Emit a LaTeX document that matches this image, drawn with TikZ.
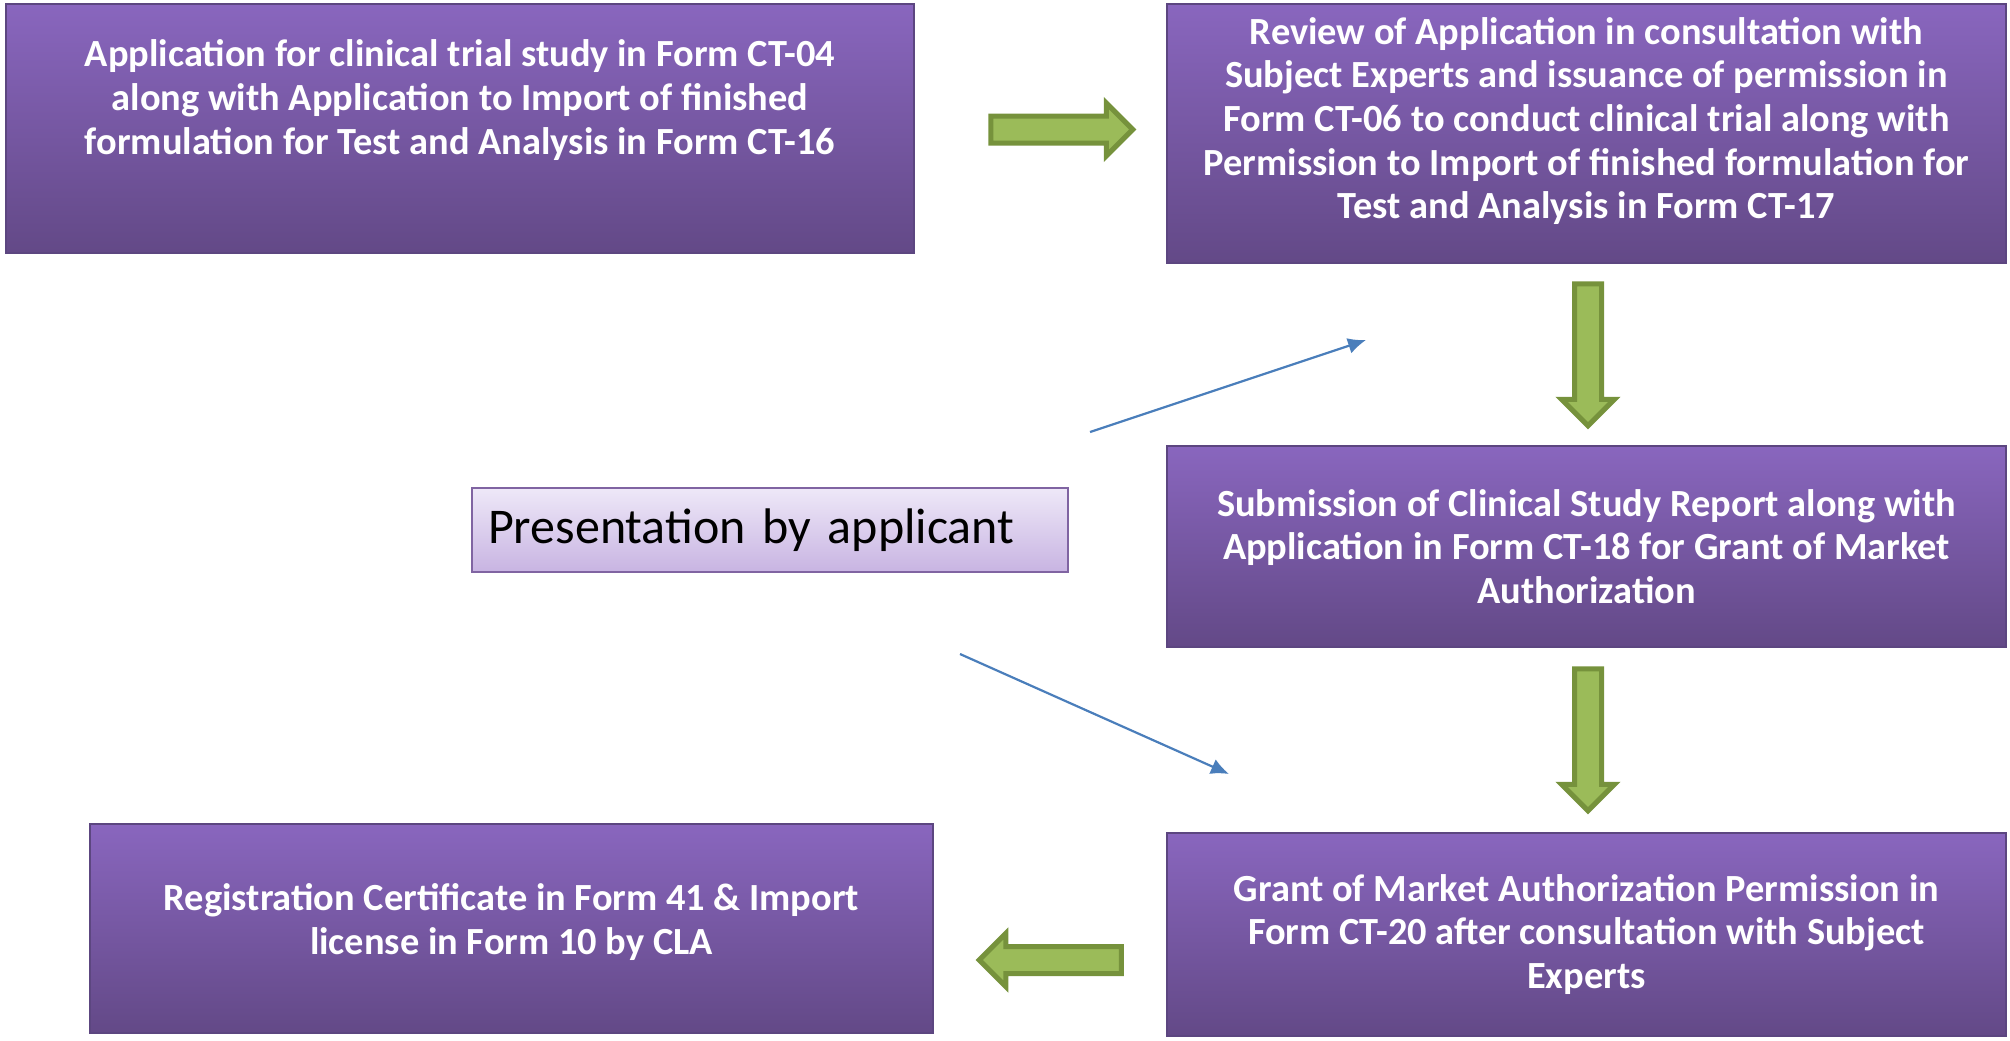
\documentclass[tikz,border=0pt]{standalone}
\usepackage{fontspec}
\setmainfont{Carlito}
\usepackage{tikz}
\usetikzlibrary{arrows.meta,positioning,calc,shapes.arrows}
\definecolor{BoxTop}{HTML}{8966BE}
\definecolor{BoxBottom}{HTML}{634987}
\definecolor{BoxEdge}{HTML}{5C4680}
\definecolor{NoteTop}{HTML}{EEE8F8}
\definecolor{NoteBottom}{HTML}{C8B4E2}
\definecolor{NoteEdge}{HTML}{8064A2}
\definecolor{ArrowFill}{HTML}{9BBB59}
\definecolor{ArrowEdge}{HTML}{76923C}
\definecolor{PointerBlue}{HTML}{4A7EBB}
\tikzset{
  stepbox/.style={
    draw=BoxEdge,
    line width=0.8pt,
    top color=BoxTop,
    bottom color=BoxBottom,
    minimum width=420pt,
    inner sep=0pt
  },
  steptext/.style={
    text=white,
    font=\fontsize{19.2}{21.8}\selectfont\bfseries,
    align=center
  },
  notebox/.style={
    draw=NoteEdge,
    line width=0.8pt,
    top color=NoteTop,
    bottom color=NoteBottom,
    minimum width=298pt,
    minimum height=42pt,
    text width=282pt,
    align=left,
    font=\fontsize{25}{30}\selectfont
  },
  fatarrow/.style={
    single arrow,
    draw=ArrowEdge,
    fill=ArrowFill,
    line width=2.5pt,
    minimum height=71pt,
    inner xsep=0pt,
    inner ysep=5.5pt,
    single arrow head extend=6.5pt
  },
  pointer/.style={-{Latex[length=9pt,width=8pt]}, line width=1.1pt, draw=PointerBlue}
}

\begin{document}
\begin{tikzpicture}[x=0.5pt, y=-0.5pt]
\useasboundingbox (0,0) rectangle (2010,1040);

% purple steps
\node[stepbox, minimum width=454pt, minimum height=124.5pt] (app) at (460,128.5) {};
\node[steptext] (apptxt) at (460,100) {Application for clinical trial study in Form CT-04\\along with Application to Import of finished\\formulation for Test and Analysis in Form CT-16};

\node[stepbox, minimum width=419.5pt, minimum height=129.5pt] (review) at (1586.5,133.5) {};
\node[steptext] (reviewtxt) at (1586.5,121) {Review of Application in consultation with\\Subject Experts and issuance of permission in\\Form CT-06 to conduct clinical trial along with\\Permission to Import of finished formulation for\\Test and Analysis in Form CT-17};

\node[stepbox, minimum width=419.5pt, minimum height=100.5pt] (csr) at (1586.5,546.5) {};
\node[steptext] (csrtxt) at (csr.center) {Submission of Clinical Study Report along with\\Application in Form CT-18 for Grant of Market\\Authorization};

\node[stepbox, minimum width=419.5pt, minimum height=101.5pt] (grant) at (1586.5,934.5) {};
\node[steptext] (granttxt) at (grant.center) {Grant of Market Authorization Permission in\\Form CT-20 after consultation with Subject\\Experts};

\node[stepbox, minimum width=421.5pt, minimum height=104.5pt] (reg) at (511.5,928.5) {};
\node[steptext] (regtxt) at (511.5,922) {Registration Certificate in Form 41 \& Import\\license in Form 10 by CLA};

\node[notebox] (pres) at (770,530) {Presentation by applicant};

% green block arrows
\node[fatarrow] (a1) at (1055,129.5) {};
\node[fatarrow, rotate=-90] (a2) at (1588,348) {};
\node[fatarrow, rotate=-90] (a3) at (1588,733) {};
\node[fatarrow, rotate=180] (a4) at (1057,960) {};

% thin pointers
\coordinate (p1s) at (1090,432);
\coordinate (p1e) at (1366,340);
\coordinate (p2s) at (960,654);
\coordinate (p2e) at (1229,774);
\draw[pointer] (p1s) -- (p1e);
\draw[pointer] (p2s) -- (p2e);
\end{tikzpicture}
\end{document}
